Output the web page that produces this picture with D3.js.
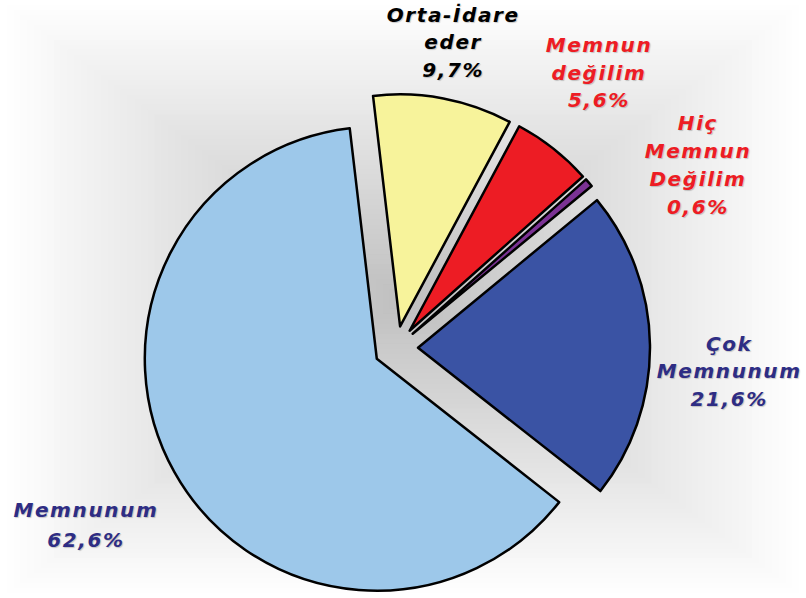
<!DOCTYPE html>
<html>
<head>
<meta charset="utf-8">
<script src="https://cdn.jsdelivr.net/npm/d3@7"></script>
<style>
  body { margin: 0; background: #fff; }
  text { font-family: "DejaVu Sans", Verdana, sans-serif; font-weight: bold; font-style: italic; }
</style>
</head>
<body>
<svg id="drawing_region"></svg>
<script>
var width = 806;
var height = 598;

// data, clockwise from the top
const categories = ["Orta-İdare\neder", "Memnun\ndeğilim", "Hiç\nMemnun\nDeğilim", "Çok\nMemnunum", "Memnunum"];
const values = [9.7, 5.6, 0.6, 21.6, 62.6];

const fills = ["#f7f39b", "#ed1c24", "#7b3294", "#3a53a4", "#9dc8ea"];
const labelColors = ["#000000", "#ed1c24", "#ed1c24", "#2e2d84", "#2e2d84"];
// label block position: angle (deg) and distance from pie centre
const labelPos = [[10.6, 311], [36.4, 342], [58.8, 353], [94, 334], [240.3, 357]];
const lineHeights = [27.5, 27.5, 28, 27.5, 30];

var svg = d3.select('#drawing_region')
      .attr('width', width)
      .attr('height', height);

// rectangular "from centre" gradient background
const steps = 60;
const bg = d3.interpolateRgb("#ffffff", "#bfbfbf");
svg.append('g').selectAll('rect')
      .data(d3.range(steps))
      .enter()
      .append('rect')
      .attr('x', i => width / 2 * i / steps)
      .attr('y', i => height / 2 * i / steps)
      .attr('width', i => width * (1 - i / steps))
      .attr('height', i => height * (1 - i / steps))
      .attr('fill', i => bg(i / steps));

const cx = 396, cy = 348;
const radius = 232;
const explode = 22;
const start = -6.7 * Math.PI / 180;

const pie = d3.pie().sort(null).startAngle(start).endAngle(start + 2 * Math.PI);
const arc = d3.arc().innerRadius(0).outerRadius(radius);
const arcs = pie(values);

var chart = svg.append('g')
      .attr('transform', `translate(${cx}, ${cy})`);

chart.selectAll('path')
      .data(arcs)
      .enter()
      .append('path')
      .attr('d', arc)
      .attr('transform', d => {
            const a = (d.startAngle + d.endAngle) / 2;
            return `translate(${explode * Math.sin(a)}, ${-explode * Math.cos(a)})`;
      })
      .attr('fill', (d, i) => fills[i])
      .attr('stroke', '#000')
      .attr('stroke-width', 2.5)
      .attr('stroke-linejoin', 'round');

const fmt = v => d3.format('.1f')(v).replace('.', ',') + '%';

const labels = chart.selectAll('text.lbl')
      .data(arcs)
      .enter()
      .append('text')
      .attr('class', 'lbl')
      .attr('text-anchor', 'middle')
      .attr('font-size', 20)
      .attr('letter-spacing', 1.6)
      .attr('fill', (d, i) => labelColors[i])
      .style('text-shadow', '1px 1px 1px rgba(0,0,0,0.2)');

labels.each(function(d, i) {
      const lines = categories[i].split('\n').concat([fmt(values[i])]);
      const a = labelPos[i][0] * Math.PI / 180;
      const r = labelPos[i][1];
      const x = r * Math.sin(a);
      const y = -r * Math.cos(a);
      const lh = lineHeights[i];
      const y0 = y - (lines.length - 1) * lh / 2 + 7;
      d3.select(this).selectAll('tspan')
            .data(lines)
            .enter()
            .append('tspan')
            .attr('x', x)
            .attr('y', (t, j) => y0 + j * lh)
            .text(t => t);
});
</script>
</body>
</html>
